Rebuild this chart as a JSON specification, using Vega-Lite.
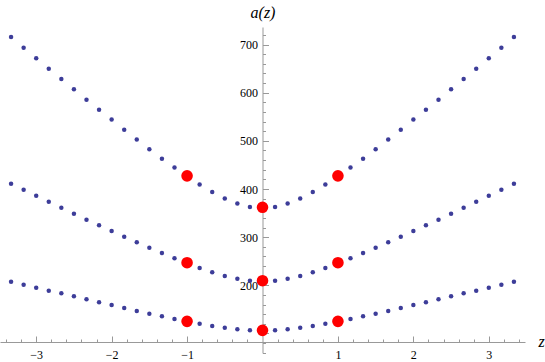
{
  "$schema": "https://vega.github.io/schema/vega-lite/v6.json",
  "width": 525,
  "height": 326,
  "autosize": {"type": "none"},
  "padding": {"left": 0, "top": 27, "right": 20, "bottom": 9},
  "background": "white",
  "config": {"view": {"stroke": null}, "font": "Liberation Serif", "axis": {"labelFont": "Liberation Serif", "titleFont": "Liberation Serif"}},
  "datasets": {
    "blue": [
      {"z":-3.3333,"a":715.5,"s":"t"},{"z":-3.1667,"a":693.5,"s":"t"},{"z":-3,"a":671.5,"s":"t"},{"z":-2.8333,"a":649.9,"s":"t"},{"z":-2.6667,"a":628.5,"s":"t"},{"z":-2.5,"a":607,"s":"t"},{"z":-2.3333,"a":585.5,"s":"t"},{"z":-2.1667,"a":564.7,"s":"t"},{"z":-2,"a":544.5,"s":"t"},{"z":-1.8333,"a":523.2,"s":"t"},{"z":-1.6667,"a":503,"s":"t"},{"z":-1.5,"a":482.4,"s":"t"},{"z":-1.3333,"a":463,"s":"t"},{"z":-1.1667,"a":444.5,"s":"t"},{"z":-1,"a":427.3,"s":"t"},{"z":-0.8333,"a":409.5,"s":"t"},{"z":-0.6667,"a":393.8,"s":"t"},{"z":-0.5,"a":380.3,"s":"t"},{"z":-0.3333,"a":370,"s":"t"},{"z":-0.1667,"a":362.6,"s":"t"},{"z":0,"a":362,"s":"t"},
      {"z":0.1667,"a":362.6,"s":"t"},{"z":0.3333,"a":370,"s":"t"},{"z":0.5,"a":380.3,"s":"t"},{"z":0.6667,"a":393.8,"s":"t"},{"z":0.8333,"a":409.5,"s":"t"},{"z":1,"a":427.3,"s":"t"},{"z":1.1667,"a":444.5,"s":"t"},{"z":1.3333,"a":463,"s":"t"},{"z":1.5,"a":482.4,"s":"t"},{"z":1.6667,"a":503,"s":"t"},{"z":1.8333,"a":523.2,"s":"t"},{"z":2,"a":544.5,"s":"t"},{"z":2.1667,"a":564.7,"s":"t"},{"z":2.3333,"a":585.5,"s":"t"},{"z":2.5,"a":607,"s":"t"},{"z":2.6667,"a":628.5,"s":"t"},{"z":2.8333,"a":649.9,"s":"t"},{"z":3,"a":671.5,"s":"t"},{"z":3.1667,"a":693.5,"s":"t"},{"z":3.3333,"a":715.5,"s":"t"},
      {"z":-3.3333,"a":411,"s":"m"},{"z":-3.1667,"a":398.5,"s":"m"},{"z":-3,"a":386.1,"s":"m"},{"z":-2.8333,"a":373.6,"s":"m"},{"z":-2.6667,"a":361.2,"s":"m"},{"z":-2.5,"a":348.7,"s":"m"},{"z":-2.3333,"a":336.2,"s":"m"},{"z":-2.1667,"a":324.6,"s":"m"},{"z":-2,"a":312.8,"s":"m"},{"z":-1.8333,"a":300.9,"s":"m"},{"z":-1.6667,"a":289.3,"s":"m"},{"z":-1.5,"a":278.1,"s":"m"},{"z":-1.3333,"a":267,"s":"m"},{"z":-1.1667,"a":256.1,"s":"m"},{"z":-1,"a":246.9,"s":"m"},{"z":-0.8333,"a":235.9,"s":"m"},{"z":-0.6667,"a":227,"s":"m"},{"z":-0.5,"a":219.3,"s":"m"},{"z":-0.3333,"a":213.5,"s":"m"},{"z":-0.1667,"a":209.6,"s":"m"},{"z":0,"a":209.5,"s":"m"},
      {"z":0.1667,"a":209.6,"s":"m"},{"z":0.3333,"a":213.5,"s":"m"},{"z":0.5,"a":219.3,"s":"m"},{"z":0.6667,"a":227,"s":"m"},{"z":0.8333,"a":235.9,"s":"m"},{"z":1,"a":246.9,"s":"m"},{"z":1.1667,"a":256.1,"s":"m"},{"z":1.3333,"a":267,"s":"m"},{"z":1.5,"a":278.1,"s":"m"},{"z":1.6667,"a":289.3,"s":"m"},{"z":1.8333,"a":300.9,"s":"m"},{"z":2,"a":312.8,"s":"m"},{"z":2.1667,"a":324.6,"s":"m"},{"z":2.3333,"a":336.2,"s":"m"},{"z":2.5,"a":348.7,"s":"m"},{"z":2.6667,"a":361.2,"s":"m"},{"z":2.8333,"a":373.6,"s":"m"},{"z":3,"a":386.1,"s":"m"},{"z":3.1667,"a":398.5,"s":"m"},{"z":3.3333,"a":411,"s":"m"},
      {"z":-3.3333,"a":207.5,"s":"b"},{"z":-3.1667,"a":201.2,"s":"b"},{"z":-3,"a":195,"s":"b"},{"z":-2.8333,"a":188.8,"s":"b"},{"z":-2.6667,"a":183.4,"s":"b"},{"z":-2.5,"a":177.2,"s":"b"},{"z":-2.3333,"a":170.9,"s":"b"},{"z":-2.1667,"a":164.7,"s":"b"},{"z":-2,"a":159.1,"s":"b"},{"z":-1.8333,"a":152.9,"s":"b"},{"z":-1.6667,"a":146.6,"s":"b"},{"z":-1.5,"a":141,"s":"b"},{"z":-1.3333,"a":135.6,"s":"b"},{"z":-1.1667,"a":130,"s":"b"},{"z":-1,"a":125.2,"s":"b"},{"z":-0.8333,"a":120.2,"s":"b"},{"z":-0.6667,"a":115.5,"s":"b"},{"z":-0.5,"a":112,"s":"b"},{"z":-0.3333,"a":108.6,"s":"b"},{"z":-0.1667,"a":106.6,"s":"b"},{"z":0,"a":106.5,"s":"b"},
      {"z":0.1667,"a":106.6,"s":"b"},{"z":0.3333,"a":108.6,"s":"b"},{"z":0.5,"a":112,"s":"b"},{"z":0.6667,"a":115.5,"s":"b"},{"z":0.8333,"a":120.2,"s":"b"},{"z":1,"a":125.2,"s":"b"},{"z":1.1667,"a":130,"s":"b"},{"z":1.3333,"a":135.6,"s":"b"},{"z":1.5,"a":141,"s":"b"},{"z":1.6667,"a":146.6,"s":"b"},{"z":1.8333,"a":152.9,"s":"b"},{"z":2,"a":159.1,"s":"b"},{"z":2.1667,"a":164.7,"s":"b"},{"z":2.3333,"a":170.9,"s":"b"},{"z":2.5,"a":177.2,"s":"b"},{"z":2.6667,"a":183.4,"s":"b"},{"z":2.8333,"a":188.8,"s":"b"},{"z":3,"a":195,"s":"b"},{"z":3.1667,"a":201.2,"s":"b"},{"z":3.3333,"a":207.5,"s":"b"}
    ],
    "red": [
      {"z":-1,"a":427.3},{"z":0,"a":362},{"z":1,"a":427.3},
      {"z":-1,"a":246.9},{"z":0,"a":209.5},{"z":1,"a":246.9},
      {"z":-1,"a":125.2},{"z":0,"a":106.5},{"z":1,"a":125.2}
    ]
  },
  "resolve": {"axis": {"x": "independent", "y": "independent"}},
  "layer": [
    {
      "data": {"name": "blue"},
      "mark": {"type": "circle", "size": 20, "color": "#3d3d99", "opacity": 1},
      "encoding": {
        "x": {
          "field": "z", "type": "quantitative",
          "scale": {"domain": [-3.48, 3.48], "nice": false, "zero": false},
          "axis": {
            "orient": "bottom", "offset": -11, "grid": false,
            "domain": false, "ticks": false, "tickSize": 0,
            "values": [-3,-2,-1,1,2,3], "format": "d",
            "labelFont": "Liberation Serif", "labelFontSize": 12, "labelColor": "black",
            "labelPadding": 7, "labelFlush": false, "labelOverlap": false,
            "title": "z", "titleFont": "Liberation Serif", "titleFontStyle": "italic", "titleFontWeight": "normal", "titleFontSize": 16, "titleColor": "black",
            "titleAngle": 0, "titleX": 541, "titleY": -1, "titleBaseline": "middle", "titleAlign": "center"
          }
        },
        "y": {
          "field": "a", "type": "quantitative",
          "scale": {"domain": [59.4, 736.5], "nice": false, "zero": false},
          "axis": {
            "orient": "left", "offset": -262.5, "grid": false,
            "domain": false, "ticks": false, "tickSize": 0,
            "values": [200,300,400,500,600,700], "format": "d",
            "labelFont": "Liberation Serif", "labelFontSize": 12, "labelColor": "black",
            "labelPadding": 5, "labelFlush": false, "labelOverlap": false,
            "title": "a(z)", "titleFont": "Liberation Serif", "titleFontStyle": "italic", "titleFontWeight": "normal", "titleFontSize": 16, "titleColor": "black",
            "titleAngle": 0, "titleX": 0, "titleY": -15, "titleBaseline": "middle", "titleAlign": "center"
          }
        }
      }
    },
    {
      "data": {"name": "red"},
      "mark": {"type": "circle", "size": 135, "color": "#ff0000", "opacity": 1},
      "encoding": {
        "x": {
          "field": "z", "type": "quantitative",
          "scale": {"domain": [-3.48, 3.48], "nice": false, "zero": false},
          "axis": {
            "orient": "top", "offset": -315, "grid": false, "labels": false, "title": null,
            "domain": true, "domainColor": "#999999", "domainWidth": 1,
            "ticks": true, "tickColor": "#999999", "tickWidth": 1,
            "values": [-3.4,-3.2,-3,-2.8,-2.6,-2.4,-2.2,-2,-1.8,-1.6,-1.4,-1.2,-1,-0.8,-0.6,-0.4,-0.2,0.2,0.4,0.6,0.8,1,1.2,1.4,1.6,1.8,2,2.2,2.4,2.6,2.8,3,3.2,3.4],
            "tickSize": {"condition": {"test": "indexof([-3,-2,-1,1,2,3], datum.value) >= 0", "value": 6}, "value": 3}
          }
        },
        "y": {
          "field": "a", "type": "quantitative",
          "scale": {"domain": [59.4, 736.5], "nice": false, "zero": false},
          "axis": {
            "orient": "right", "offset": -262.5, "grid": false, "labels": false, "title": null,
            "domain": true, "domainColor": "#999999", "domainWidth": 1,
            "ticks": true, "tickColor": "#999999", "tickWidth": 1,
            "values": [60,80,100,120,140,160,180,200,220,240,260,280,300,320,340,360,380,400,420,440,460,480,500,520,540,560,580,600,620,640,660,680,700,720],
            "tickSize": {"condition": {"test": "datum.value % 100 === 0", "value": 6}, "value": 3}
          }
        }
      }
    }
  ]
}
